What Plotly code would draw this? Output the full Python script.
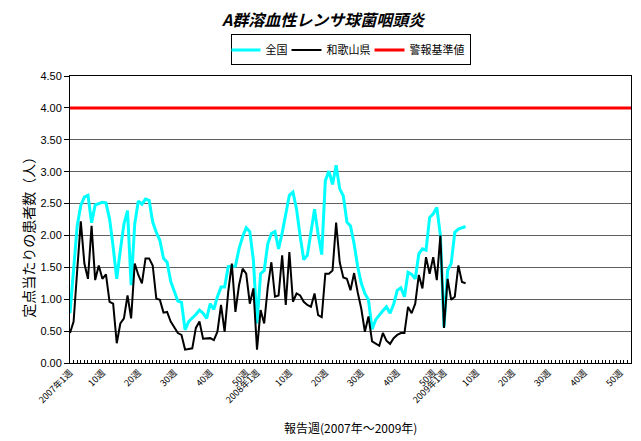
import plotly.graph_objects as go

# ---- data ----
years = [2007, 2008, 2009]
weeks_per_year = [52, 52, 53]

national = [0.78, 1.45, 2.15, 2.47, 2.60, 2.63, 2.20, 2.48, 2.50, 2.52,
            2.51, 2.26, 1.82, 1.32, 1.77, 2.18, 2.39, 1.22, 2.18, 2.54,
            2.49, 2.57, 2.55, 2.21, 2.05, 1.92, 1.64, 1.58, 1.28, 1.12,
            0.97, 0.95, 0.52, 0.65, 0.70, 0.76, 0.83, 0.78, 0.70, 0.93,
            0.84, 1.04, 1.19, 1.19, 1.51, 1.52, 1.52, 1.79, 1.98, 2.12,
            2.06, 1.61, 0.62, 1.40, 1.45, 1.87, 2.03, 2.06, 1.79, 2.04,
            2.36, 2.63, 2.68, 2.41, 1.99, 1.62, 1.69, 2.08, 2.41, 2.02,
            1.70, 2.86, 3.01, 2.80, 3.10, 2.73, 2.62, 2.21, 2.15, 1.87,
            1.51, 1.25, 1.09, 0.99, 0.53, 0.68, 0.76, 0.82, 0.88, 0.78,
            0.92, 1.14, 1.18, 1.04, 1.42, 1.39, 1.32, 1.71, 1.79, 1.77,
            2.28, 2.34, 2.44, 2.00, 0.56, 1.45, 1.56, 2.05, 2.10, 2.12,
            2.14]

wakayama = [0.47, 0.65, 1.45, 2.22, 1.56, 1.32, 2.15, 1.30, 1.53, 1.32,
            1.39, 0.96, 0.93, 0.31, 0.62, 0.70, 1.06, 0.70, 1.56, 1.38,
            1.25, 1.64, 1.64, 1.53, 1.01, 0.99, 0.79, 0.80, 0.65, 0.55,
            0.47, 0.44, 0.21, 0.22, 0.23, 0.55, 0.65, 0.38, 0.39, 0.39,
            0.36, 0.49, 0.91, 0.49, 1.12, 1.56, 0.80, 1.22, 1.48, 1.40,
            0.93, 1.17, 0.21, 0.83, 0.62, 1.19, 1.58, 1.04, 1.06, 1.69,
            0.91, 1.74, 0.96, 1.09, 1.06, 0.96, 0.91, 0.88, 1.09, 0.75,
            0.72, 1.40, 1.40, 1.45, 2.20, 1.58, 1.34, 1.32, 1.14, 1.41,
            1.11, 0.85, 0.49, 0.73, 0.34, 0.31, 0.27, 0.47, 0.35, 0.30,
            0.39, 0.44, 0.47, 0.47, 0.88, 0.78, 0.93, 1.38, 1.17, 1.66,
            1.40, 1.66, 1.30, 2.00, 0.55, 1.32, 0.99, 1.04, 1.53, 1.27,
            1.25]

alert_level = 4.0
labelled_weeks = [1, 10, 20, 30, 40, 50]

# ---- categories & tick labels ----
categories = []
tick_text = []
for yr, nw in zip(years, weeks_per_year):
    for w in range(1, nw + 1):
        categories.append(f"{yr}年{w}週")
        if w == 1:
            tick_text.append(f"{yr}年1週")
        elif w in labelled_weeks:
            tick_text.append(f"{w}週")
        else:
            tick_text.append("")
idx = list(range(len(categories)))

JP = "Noto Sans CJK JP"
NUM = "Liberation Sans, Noto Sans CJK JP"

fig = go.Figure()
fig.add_trace(go.Scatter(x=idx[:len(national)], y=national, mode="lines",
                         name="全国", line=dict(color="#00FFFF", width=3)))
fig.add_trace(go.Scatter(x=idx[:len(wakayama)], y=wakayama, mode="lines",
                         name="和歌山県", line=dict(color="#000000", width=2)))
fig.add_trace(go.Scatter(x=[idx[0], idx[-1]], y=[alert_level, alert_level],
                         mode="lines", name="警報基準値",
                         line=dict(color="#FF0000", width=3)))

# page has an 8px body margin, so the figure is 8px smaller and offset
fig.update_layout(
    width=633, height=433,
    margin=dict(l=62, r=10, t=68, b=78, autoexpand=False),
    paper_bgcolor="white", plot_bgcolor="white",
    font=dict(family=NUM, size=11, color="black"),
    legend=dict(orientation="h", x=0.5, xanchor="center", y=1.145, yanchor="top",
                bordercolor="black", borderwidth=1, bgcolor="white",
                font=dict(family=JP, size=11), itemwidth=30,
                tracegroupgap=0, indentation=-6),
    showlegend=True,
)

fig.update_xaxes(range=[idx[0], idx[-1]], tickmode="array", tickvals=idx,
                 ticktext=tick_text, tickangle=-45, ticks="inside", ticklen=3,
                 tickcolor="black", showgrid=False, zeroline=False,
                 showline=True, linecolor="black", linewidth=1, mirror=True,
                 automargin=False,
                 tickfont=dict(family=JP, size=9))
fig.update_yaxes(range=[0, 4.5], dtick=0.5, tickformat=".2f",
                 showgrid=True, gridcolor="#606060", gridwidth=1,
                 zeroline=False, showline=True, linecolor="black", linewidth=1,
                 mirror=True, ticks="outside", ticklen=5, tickcolor="black",
                 automargin=False,
                 tickfont=dict(family=NUM, size=11))

fig.add_annotation(text="<b><i>A群溶血性レンサ球菌咽頭炎</i></b>",
                   xref="paper", yref="paper", x=0.452, y=1.198,
                   showarrow=False, xanchor="center", yanchor="middle",
                   font=dict(family=JP, size=16, color="black"))
fig.add_annotation(text="定点当たりの患者数（人）", xref="paper", yref="paper",
                   x=-0.075, y=0.45, textangle=-90, showarrow=False,
                   xanchor="center", yanchor="middle",
                   font=dict(family=JP, size=14))
fig.add_annotation(text="報告週(2007年～2009年)", xref="paper", yref="paper",
                   x=0.5, y=-0.223, showarrow=False,
                   xanchor="center", yanchor="middle",
                   font=dict(family=JP, size=12))

fig.write_html("out.html")
